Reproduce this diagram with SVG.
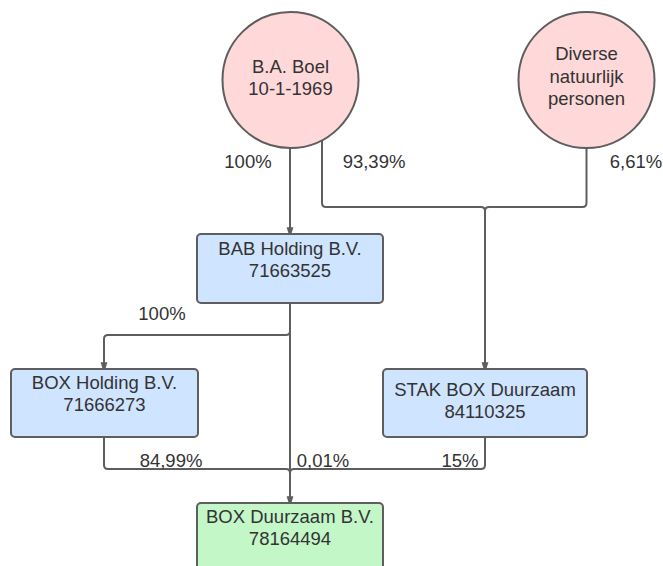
<svg xmlns="http://www.w3.org/2000/svg" width="663" height="566" viewBox="0 0 663 566">
<defs>
<style>
.t{font-family:"Liberation Sans",Arial,sans-serif;font-size:18.5px;fill:#333333;text-anchor:middle}
.c{fill:#ffd9d9;stroke:#5e5e5e;stroke-width:2}
.b{fill:#cfe4ff;stroke:#5e5e5e;stroke-width:2}
.g{fill:#c3f7c8;stroke:#5e5e5e;stroke-width:2}
.l{fill:none;stroke:#5e5e5e;stroke-width:2;stroke-linejoin:round}
</style>
<marker id="ah" markerWidth="11" markerHeight="16" refX="10" refY="5.5" orient="auto" markerUnits="userSpaceOnUse" viewBox="0 0 16 11">
<path d="M0,0.5 L16,5.5 L0,10.5 Z" fill="#5e5e5e"/>
</marker>
</defs>
<rect width="663" height="566" fill="#ffffff"/>
<g id="connectors">
<path class="l" d="M290,148 L290,234" marker-end="url(#ah)"/>
<path class="l" d="M322,140 L322,203 Q322,207 326,207 L481,207 Q485,207 485,211 L485,369" marker-end="url(#ah)"/>
<path class="l" d="M586.5,148 L586.5,203 Q586.5,207 582.5,207 L489,207 Q485,207 485,211"/>
<path class="l" d="M290,303 L290,331 Q290,335 286,335 L108,335 Q104,335 104,339 L104,369" marker-end="url(#ah)"/>
<path class="l" d="M290,303 L290,503" marker-end="url(#ah)"/>
<path class="l" d="M104,437 L104,465 Q104,469 108,469 L286,469 Q290,469 290,473"/>
<path class="l" d="M485,437 L485,465 Q485,469 481,469 L294,469 Q290,469 290,473"/>
<text class="t" x="248" y="168">100%</text>
<text class="t" x="374" y="168">93,39%</text>
<text class="t" x="636" y="168">6,61%</text>
<text class="t" x="162" y="320">100%</text>
<text class="t" x="171" y="467">84,99%</text>
<text class="t" x="323" y="467">0,01%</text>
<text class="t" x="460" y="467">15%</text>
</g>
<g id="boel">
<circle class="c" cx="290.5" cy="80" r="68"/>
<text class="t" x="290.5" y="73">B.A. Boel</text>
<text class="t" x="290.5" y="95">10-1-1969</text>
</g>
<g id="diverse">
<circle class="c" cx="586.5" cy="80" r="68"/>
<text class="t" x="586.5" y="60">Diverse</text>
<text class="t" x="586.5" y="82.5">natuurlijk</text>
<text class="t" x="586.5" y="105">personen</text>
</g>
<g id="bab">
<rect class="b" x="197" y="234" width="186" height="69" rx="4"/>
<text class="t" x="290" y="255">BAB Holding B.V.</text>
<text class="t" x="290" y="277">71663525</text>
</g>
<g id="boxholding">
<rect class="b" x="11" y="369" width="187" height="68" rx="4"/>
<text class="t" x="104.5" y="389">BOX Holding B.V.</text>
<text class="t" x="104.5" y="411">71666273</text>
</g>
<g id="stak">
<rect class="b" x="383" y="369" width="204" height="68" rx="4"/>
<text class="t" x="485" y="396">STAK BOX Duurzaam</text>
<text class="t" x="485" y="418">84110325</text>
</g>
<g id="boxduurzaam">
<rect class="g" x="197" y="503" width="186" height="75" rx="4"/>
<text class="t" x="290" y="523">BOX Duurzaam B.V.</text>
<text class="t" x="290" y="545">78164494</text>
</g>
</svg>
